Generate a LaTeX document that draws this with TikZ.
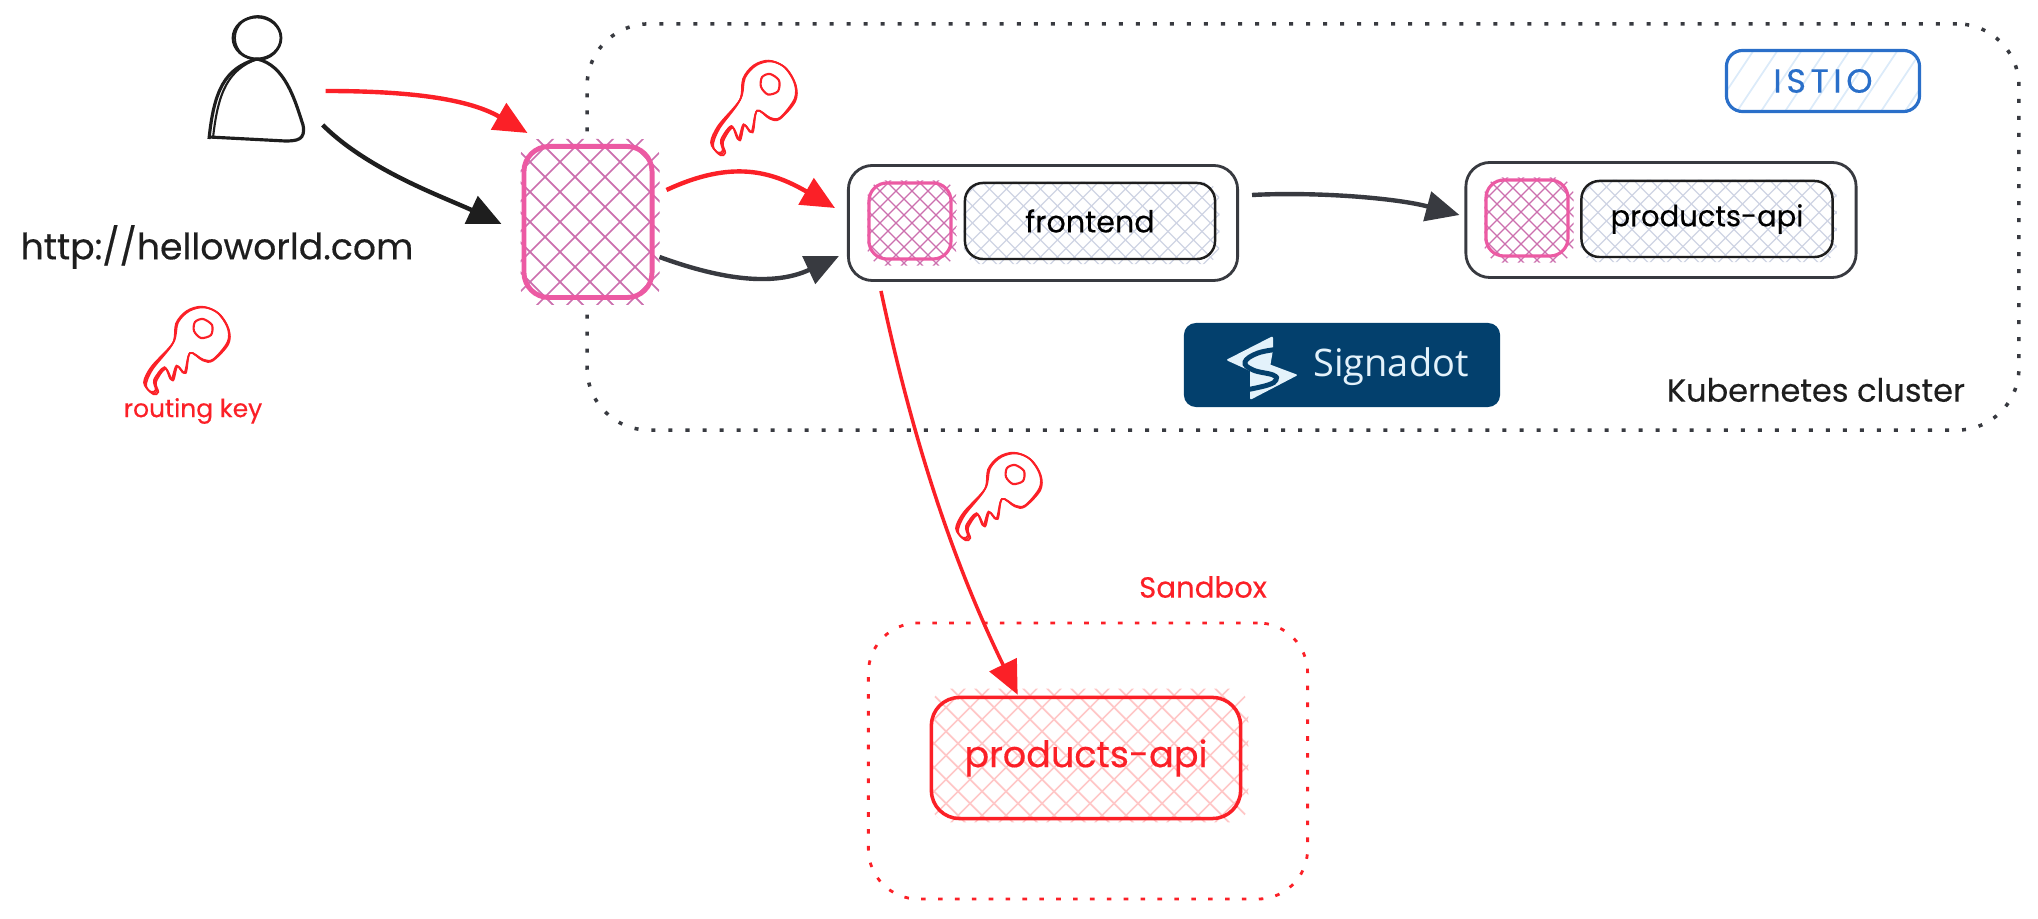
\documentclass[tikz,border=0pt]{standalone}
\usepackage{fontspec}
\setmainfont{Poppins}[FakeBold=.35]
\newfontfamily\logofont{Open Sans}
\usetikzlibrary{arrows.meta,backgrounds}
\definecolor{inkdark}{HTML}{1E1E1E}
\definecolor{inkgrey}{HTML}{383A40}
\definecolor{inkred}{HTML}{FB2027}
\definecolor{inkpink}{HTML}{EC5AA3}
\definecolor{hatchpink}{HTML}{CC6FAE}
\definecolor{hatchgrey}{HTML}{CFD4E4}
\definecolor{hatchred}{HTML}{FFC7C7}
\definecolor{inkblue}{HTML}{2A6FC9}
\definecolor{hatchblue}{HTML}{DCEBF9}
\definecolor{logoblue}{HTML}{03406D}
\definecolor{logopale}{HTML}{E3F2FB}
\newcommand{\crosshatch}[3]{%
  \begin{scope}[shift={(path picture bounding box.center)}]
    \foreach \k in {-24,...,24} {
      \draw[#1,line width=#2] ({\k*#3-300},-300) -- ({\k*#3+300},300);
      \draw[#1,line width=#2] ({\k*#3-300},300) -- ({\k*#3+300},-300);
    }
  \end{scope}}
\newcommand{\singlehatch}[3]{%
  \begin{scope}[shift={(path picture bounding box.center)}]
    \foreach \k in {-12,...,12} {
      \draw[#1,line width=#2] ({\k*#3-100},150) -- ({\k*#3+100},-150);
    }
  \end{scope}}
% hatching runs a little past the outline of its box
\newcommand{\hatchover}[6]{%
  \path[rounded corners=.18cm,fill=white,path picture={\crosshatch{#2}{#3}{#4}}]
    ([shift={#5}]#1.north west) rectangle ([shift={#6}]#1.south east);}
\tikzset{>=Triangle}
\tikzset{arr/.style={line width=1.25pt,-{Triangle[length=9.5pt,width=8.5pt]}}}
\tikzset{frame/.style={draw=inkgrey,line width=.8pt,rounded corners=.24cm,inner sep=0pt}}
\tikzset{podbox/.style={draw=inkpink,line width=.9pt,rounded corners=.18cm,inner sep=0pt,
    minimum width=.82cm,minimum height=.76cm}}
\tikzset{svcbox/.style={draw=inkdark,line width=.7pt,rounded corners=.18cm,inner sep=0pt,
    minimum width=2.5cm,minimum height=.76cm}}
\tikzset{hand/.style={inner sep=0pt,text=inkdark}}
\tikzset{keyicon/.pic={
    \foreach \ang in {0,2,-2} {
      \draw[inkred,line width=.45pt,rotate around={\ang:(45,45)}] plot[smooth cycle,tension=.55] coordinates {
        (7,86) (0,77) (7,61) (28,36) (32,16) (43,4) (58,0) (73,6) (83,21) (83,36) (68,53) (58,53)
        (45,46) (40,66) (32,59) (27,73) (20,61) (10,74) (12,84)};
    }
    \draw[inkred,line width=.6pt] plot[smooth cycle] coordinates {(58,12) (67,18) (66,28) (56,31) (49,24) (50,15)};
  }}
\begin{document}
\begin{tikzpicture}[x=.01cm,y=-.01cm]
  \useasboundingbox (0,0) rectangle (2038,919);
  % cluster and sandbox outlines
  \begin{pgfonlayer}{background}
    \node[draw=inkgrey,line width=1pt,dash pattern=on 1.14pt off 3.7pt,rounded corners=.62cm,inner sep=0pt,
      minimum width=14.31cm,minimum height=4.06cm] (cluster) at (1303,227) {};
    \node[draw=inkred,line width=.8pt,dash pattern=on 1.3pt off 3.5pt,rounded corners=.5cm,inner sep=0pt,
      minimum width=4.39cm,minimum height=2.76cm] (sandbox) at (1088,761) {};
  \end{pgfonlayer}
  % user
  \node[inner sep=0pt,minimum width=.94cm,minimum height=1.24cm] (user) at (257,79) {};
  \draw[inkdark,line width=.8pt] (257,38) ellipse (24 and 21);
  \draw[inkdark,line width=.5pt] (258,38) ellipse (23 and 22);
  \draw[inkdark,line width=.9pt] (209,139) .. controls (214,90) and (225,68) .. (257,59)
    .. controls (285,65) and (295,100) .. (303,125) .. controls (306,140) and (297,141) .. (285,141)
    -- (209,137);
  \draw[inkdark,line width=.6pt] (213,138) .. controls (218,92) and (228,70) .. (257,59);
  % gateway
  \node[draw=inkpink,line width=1.4pt,rounded corners=.25cm,inner sep=0pt,minimum width=1.28cm,minimum height=1.51cm] (gate) at (588,222) {};
  % frontend
  \node[frame,minimum width=3.89cm,minimum height=1.15cm] (frontend) at (1043,223) {};
  \node[podbox] (frontendpod) at (910,221) {};
  \node[svcbox,font=\fontsize{8.6}{10}\selectfont] (frontendsvc) at (1090,221) {frontend};
  % products-api
  \node[frame,minimum width=3.9cm,minimum height=1.15cm] (products) at (1661,220) {};
  \node[podbox] (productspod) at (1527,218) {};
  \node[svcbox,minimum width=2.51cm,font=\fontsize{8.25}{10}\selectfont] (productssvc) at (1707,219) {products-api};
  % istio and signadot
  \node[draw=inkblue,line width=.9pt,text=inkblue,rounded corners=.16cm,inner sep=0pt,minimum width=1.93cm,minimum height=.61cm,
    font=\fontsize{9.5}{11}\selectfont\addfontfeature{LetterSpace=14},path picture={\singlehatch{hatchblue}{.5pt}{24}}] (istio) at (1823,81) {ISTIO};
  \node[fill=logoblue,rounded corners=.12cm,inner sep=0pt,minimum width=3.16cm,minimum height=.84cm] (signadot) at (1342,365) {};
  \fill[logopale,rounded corners=.02cm] (1273,336) -- (1226,360) -- (1268,379) -- (1273,350) -- cycle;
  \fill[logopale,rounded corners=.02cm] (1250,357) -- (1298,375) -- (1250,400) -- cycle;
  \draw[logoblue,line width=1.4pt] plot[smooth,tension=.7] coordinates {(1280,349) (1258,353) (1245,362) (1253,370) (1273,375) (1276,380) (1268,385) (1246,390)};
  \node[inner sep=0pt,text=logopale,font=\logofont\fontsize{10.8}{12}\selectfont] (signadotlabel) at (1391,367) {Signadot};
  % sandboxed service
  \node[draw=inkred,line width=1pt,text=inkred,rounded corners=.28cm,inner sep=0pt,minimum width=3.09cm,minimum height=1.21cm,
    font=\fontsize{10.4}{12}\selectfont] (sandboxsvc) at (1086,758) {products-api};
  % hatching, behind the boxes
  \begin{pgfonlayer}{background}
    \hatchover{gate}{hatchpink}{.5pt}{30}{(-1,-5)}{(5,5)}
    \hatchover{frontendpod}{hatchpink}{.35pt}{16}{(0,-1)}{(4,5)}
    \hatchover{frontendsvc}{hatchgrey}{.35pt}{17}{(0,0)}{(3,4)}
    \hatchover{productspod}{hatchpink}{.35pt}{16}{(0,-1)}{(4,5)}
    \hatchover{productssvc}{hatchgrey}{.35pt}{17}{(0,0)}{(3,4)}
    \hatchover{sandboxsvc}{hatchred}{.5pt}{24}{(2,-7)}{(6,2)}
  \end{pgfonlayer}
  % labels
  \node[hand,font=\fontsize{10.3}{12}\selectfont] (url) at (217,247) {http://helloworld.com};
  \node[hand,text=inkred,font=\fontsize{7.1}{9}\selectfont] (routing) at (193,411) {routing key};
  \node[hand,font=\fontsize{9.1}{11}\selectfont] (clusterlabel) at (1816,390) {Kubernetes cluster};
  \node[hand,text=inkred,font=\fontsize{8.3}{10}\selectfont] (sandboxlabel) at (1203,587) {Sandbox};
  % keys
  \pic at (145,307) {keyicon};
  \pic[yscale=1.08] at (712,61) {keyicon};
  \pic at (957,453) {keyicon};
  % connectors
  \draw[arr,inkred] ([shift={(21,12)}]user.east) to[out=0,in=150,looseness=.9] ([shift={(6,-11)}]gate.north west);
  \draw[arr,inkdark] ([shift={(18,46)}]user.east) to[out=-45,in=155,looseness=.8] ([shift={(-20,2)}]gate.west);
  \draw[arr,inkred] ([shift={(12,-32)}]gate.east) to[out=25,in=150,looseness=1.1] ([shift={(-12,-15)}]frontend.west);
  \draw[arr,inkgrey] ([shift={(5,35)}]gate.east) to[out=-20,in=205,looseness=1] ([shift={(-8,33)}]frontend.west);
  \draw[arr,inkgrey] ([shift={(13,-28)}]frontend.east) to[out=3,in=165,looseness=.8] ([shift={(-5,-5)}]products.west);
  \draw[arr,line width=1pt,inkred] ([shift={(34,9)}]frontend.south west) to[out=-78,in=116,looseness=.9] ([shift={(88,-1)}]sandboxsvc.north west);
\end{tikzpicture}
\end{document}
